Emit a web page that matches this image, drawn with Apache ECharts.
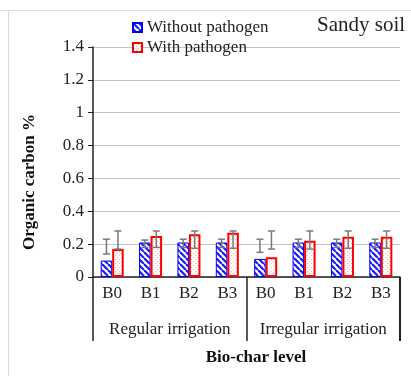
<!DOCTYPE html>
<html>
<head>
<meta charset="utf-8">
<script src="https://cdn.jsdelivr.net/npm/echarts@6/dist/echarts.min.js"></script>
<style>
html,body{margin:0;padding:0;background:#fff;}
#c{width:411px;height:376px;}
</style>
</head>
<body>
<div id="c"></div>
<script>
const categories = ['B0','B1','B2','B3','B0','B1','B2','B3'];
const groups = ['Regular irrigation','Irregular irrigation'];
const yTicks = [0, 0.2, 0.4, 0.6, 0.8, 1, 1.2, 1.4];
const seriesNames = ['Without pathogen','With pathogen'];
const withoutPathogen = [0.10, 0.21, 0.21, 0.21, 0.11, 0.21, 0.21, 0.21];
const withPathogen    = [0.17, 0.25, 0.26, 0.27, 0.12, 0.22, 0.245, 0.245];
const withoutLow  = [0.14, 0.18, 0.18, 0.18, 0.15, 0.18, 0.18, 0.18];
const withoutHigh = [0.23, 0.225, 0.23, 0.23, 0.23, 0.23, 0.23, 0.23];
const withLow  = [0.17, 0.18, 0.175, 0.175, 0.17, 0.17, 0.175, 0.175];
const withHigh = [0.28, 0.28, 0.28, 0.28, 0.28, 0.28, 0.28, 0.28];

function stripePattern(){
  const c = document.createElement('canvas');
  c.width = 6; c.height = 6;
  const g = c.getContext('2d');
  g.fillStyle = '#ffffff'; g.fillRect(0,0,6,6);
  g.strokeStyle = '#1a1aff'; g.lineWidth = 2.2;
  for (let k = -12; k <= 12; k += 6) {
    g.beginPath(); g.moveTo(k, 0); g.lineTo(k + 6, 6); g.stroke();
  }
  return c;
}
function dotPattern(){
  const c = document.createElement('canvas');
  c.width = 4; c.height = 4;
  const g = c.getContext('2d');
  g.fillStyle = '#ffffff'; g.fillRect(0,0,4,4);
  g.fillStyle = '#f6b4b4'; g.fillRect(1,1,1,1);
  g.fillRect(3,3,1,1);
  return c;
}

const FONT = '"Liberation Serif", "Times New Roman", serif';
const chart = echarts.init(document.getElementById('c'), null, {renderer:'canvas'});

function errSeries(name, low, high, sign){
  return {
    type: 'custom',
    name: name + ' err',
    xAxisIndex: 0,
    z: 10,
    silent: true,
    data: low.map((l, i) => [i, l, high[i]]),
    renderItem: function(params, api){
      const off = api.size([1, 0])[0] * 0.15 * sign;
      const pLo = api.coord([api.value(0), api.value(1)]);
      const pHi = api.coord([api.value(0), api.value(2)]);
      const x = pLo[0] + off;
      const cap = 3.5;
      const st = {stroke: '#7a7a7a', lineWidth: 1.5};
      return {
        type: 'group',
        children: [
          {type:'line', shape:{x1:x, y1:pLo[1], x2:x, y2:pHi[1]}, style:st},
          {type:'line', shape:{x1:x-cap, y1:pHi[1], x2:x+cap, y2:pHi[1]}, style:st},
          {type:'line', shape:{x1:x-cap, y1:pLo[1], x2:x+cap, y2:pLo[1]}, style:st}
        ]
      };
    }
  };
}

const GRID = {left: 93, right: 11, top: 47, bottom: 99};
const W = 411, H = 376;
const gridRight = W - GRID.right, gridBottom = H - GRID.bottom;

chart.setOption({
  animation: false,
  backgroundColor: '#ffffff',
  textStyle: {fontFamily: FONT},
  grid: Object.assign({containLabel: false}, GRID),
  legend: {
    orient: 'vertical',
    left: 127, top: 14,
    itemWidth: 9, itemHeight: 9, itemGap: 3,
    data: seriesNames,
    textStyle: {fontFamily: FONT, fontSize: 17, color: '#222'},
    icon: 'rect'
  },
  xAxis: [
    {
      type: 'category', data: categories, position: 'bottom',
      axisLine: {show: true, lineStyle: {color: '#222', width: 1.5}},
      axisTick: {show: false},
      axisLabel: {margin: 8, interval: 0, fontFamily: FONT, fontSize: 17, color: '#222'},
      splitLine: {show: false}
    },
    {
      type: 'category', data: groups, position: 'bottom',
      axisLine: {show: false},
      axisTick: {show: true, interval: 0, length: 64, lineStyle: {color: '#222', width: 1.5}},
      axisLabel: {margin: 44, interval: 0, fontFamily: FONT, fontSize: 17, color: '#222'},
      splitLine: {show: false}
    }
  ],
  yAxis: {
    type: 'value', min: 0, max: 1.4, interval: 0.2,
    axisLine: {show: true, lineStyle: {color: '#222', width: 1.5}},
    axisTick: {show: true, length: 5, lineStyle: {color: '#222'}},
    axisLabel: {fontFamily: FONT, fontSize: 17, color: '#222', margin: 9,
      formatter: v => String(yTicks.find(t => Math.abs(t - v) < 1e-9) ?? v)},
    splitLine: {show: true, lineStyle: {color: '#c4c4c4', width: 1}}
  },
  series: [
    {
      name: seriesNames[0], type: 'bar', xAxisIndex: 0,
      data: withoutPathogen, barWidth: '30%', barGap: '0%',
      itemStyle: {color: {image: stripePattern(), repeat: 'repeat'}, borderColor: '#0000ff', borderWidth: 1}
    },
    {
      name: seriesNames[1], type: 'bar', xAxisIndex: 0,
      data: withPathogen, barWidth: '30%', barGap: '0%',
      itemStyle: {color: {image: dotPattern(), repeat: 'repeat'}, borderColor: '#ff0000', borderWidth: 2}
    },
    errSeries(seriesNames[0], withoutLow, withoutHigh, -1),
    errSeries(seriesNames[1], withLow, withHigh, 1)
  ],
  graphic: [
    {type:'line', shape:{x1:0, y1:10.5, x2:411, y2:10.5}, style:{stroke:'#dcdcdc', lineWidth:1}, silent:true},
    {type:'line', shape:{x1:8.5, y1:10, x2:8.5, y2:376}, style:{stroke:'#dcdcdc', lineWidth:1}, silent:true},
    {type:'rect', x: gridRight - 1, y: gridBottom, z: 100, shape:{x:0, y:0, width:2, height:64}, style:{fill:'#222'}, silent:true},
    {type:'text', x: 317, y: 25, style:{text:'Sandy soil', font:'21px ' + FONT, fill:'#222', align:'left', verticalAlign:'middle'}},
    {type:'text', x: 30, y: 182, rotation: Math.PI/2, style:{text:'Organic carbon %', font:'bold 17px ' + FONT, fill:'#111', align:'center', verticalAlign:'middle'}},
    {type:'text', x: 256, y: 358, style:{text:'Bio-char level', font:'bold 17px ' + FONT, fill:'#111', align:'center', verticalAlign:'middle'}}
  ]
});
</script>
</body>
</html>
